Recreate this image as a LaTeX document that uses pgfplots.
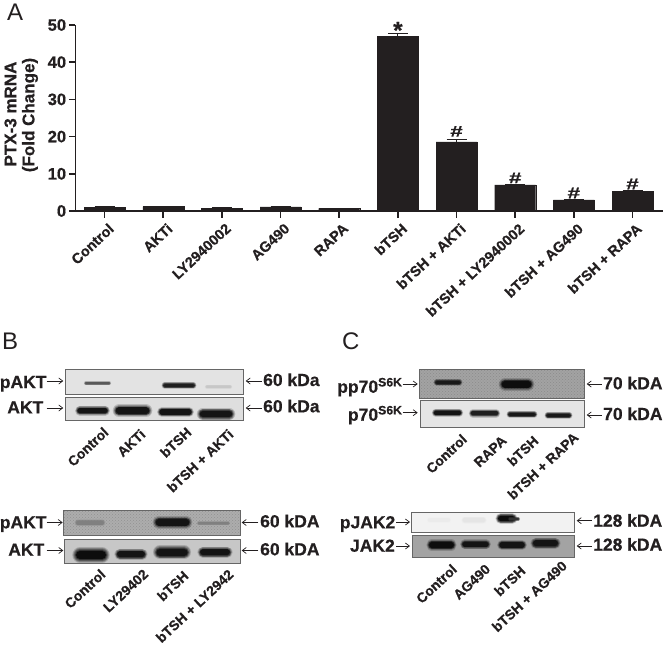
\documentclass[border=0pt]{standalone}
\usepackage{fontspec}
\setmainfont{Liberation Sans}
\usepackage{pgfplots}
\pgfplotsset{compat=1.18}
\usetikzlibrary{arrows.meta,patterns}
\definecolor{ink}{HTML}{231F20}
\newcommand\heavy{\addfontfeature{FakeBold=0.6}}
\newcommand\bx[5]{\addplot[draw=black!60,line width=.8pt,fill=#5] coordinates {(#1,#3) (#2,#3) (#2,#4) (#1,#4)} -- cycle;}
\newcommand\nz[4]{\addplot[draw=none,pattern=crosshatch dots,pattern color=black!70,opacity=.28] coordinates {(#1,#3) (#2,#3) (#2,#4) (#1,#4)} -- cycle;}
\newcommand\band[5]{%
\addplot[no marks,line cap=round,color=#5,opacity=.18,line width={#4*1.4pt}] coordinates {(#1,#3) (#2,#3)};
\addplot[no marks,line cap=round,color=#5,opacity=.25,line width={#4*1.22pt}] coordinates {(#1,#3) (#2,#3)};
\addplot[no marks,line cap=round,color=#5,opacity=.35,line width={#4*1.05pt}] coordinates {(#1,#3) (#2,#3)};
\addplot[no marks,line cap=round,color=#5,opacity=.5,line width={#4*.9pt}] coordinates {(#1,#3) (#2,#3)};
\addplot[no marks,line cap=round,color=#5,opacity=1,line width={#4*.72pt}] coordinates {(#1,#3) (#2,#3)};}
\newcommand\arR[3]{\draw[-{Straight Barb[length=4pt,width=6pt]},line width=.7pt,ink] (axis cs:#1,#3)--(axis cs:#2,#3);}
\newcommand\rl[3]{\node[rotate=43,anchor=north east,inner sep=0pt,font=\fontsize{13.9}{13.9}\selectfont\bfseries\heavy,text=ink] at (axis cs:#1-2.5,#2-2) {#3};}
\newcommand\lb[3]{\node[anchor=base east,inner sep=0pt,font=\fontsize{17.5}{17.5}\selectfont\bfseries\heavy,text=ink] at (axis cs:#1,#2) {#3};}
\newcommand\lw[3]{\node[anchor=base west,inner sep=0pt,font=\fontsize{17.5}{17.5}\selectfont\bfseries\heavy,text=ink] at (axis cs:#1,#2) {#3};}
\newcommand\pl[3]{\node[anchor=north west,inner sep=0pt,font=\fontsize{24}{24}\selectfont,text=ink] at (axis cs:#1,#2) {#3};}
\newcommand\hs[2]{\node[inner sep=0pt,text=ink,font=\fontsize{15.5}{15.5}\selectfont\bfseries\heavy] at (axis cs:#1,#2) {\scalebox{1.45}[1]{\#}};}
\begin{document}
\begin{tikzpicture}
\begin{axis}[at={(0pt,-645pt)},anchor=south west,width=664pt,height=645pt,scale only axis,
 xmin=0,xmax=664,ymin=0,ymax=645,y dir=reverse,hide axis,clip=false]
\pl{7}{4}{A}\pl{2}{333}{B}\pl{342}{333}{C}
% Panel B, upper blot
\bx{65.3}{243.7}{369.3}{394.7}{black!11}
\bx{65.3}{243.7}{397.3}{420.3}{black!13}
\band{86}{109}{383.3}{3}{black!65}
\band{165}{193}{385.3}{5}{black!88}
\band{207}{230}{386.7}{3}{black!22}
\band{80}{105}{410.7}{7}{black!92}
\band{119}{146}{410.7}{9}{black!92}
\band{162}{189}{412}{7}{black!92}
\band{203}{229}{414}{9}{black!92}
% Panel B, lower blot
\bx{63.3}{240.7}{510.7}{535.3}{black!32}
\nz{63.8}{240.2}{511.2}{534.8}
\bx{64.3}{240}{539}{563}{black!22}
\band{78}{102}{522.7}{5}{black!50}
\band{159}{186}{522.3}{9}{black!92}
\band{199}{228}{523.3}{3}{black!50}
\band{80}{102}{555}{11}{black!95}
\band{120}{142}{554.3}{8}{black!92}
\band{160}{184}{552.3}{10}{black!92}
\band{203}{227}{552.3}{8}{black!92}
% Panel C, upper blot
\bx{419.7}{584.3}{369.3}{398.3}{black!36}
\nz{420.2}{583.8}{369.8}{397.8}
\bx{420.3}{584.3}{400.7}{427.7}{black!10}
\band{437}{459}{382.3}{5}{black!90}
\band{505}{528}{384.3}{9}{black!95}
\band{436}{459}{412.7}{6}{black!92}
\band{473}{496}{413.3}{6}{black!88}
\band{510}{534}{414.3}{5}{black!90}
\band{548}{569}{415.3}{5}{black!90}
% Panel C, lower blot
\bx{411.3}{574.7}{512.3}{532}{black!5}
\bx{412.3}{574.7}{535.3}{557.7}{black!36}
\band{430}{448}{520}{4}{black!8}
\band{465}{483}{520}{5}{black!10}
\band{501}{512}{518.5}{8}{black!95}
\band{510}{518}{519}{3}{black!80}
\band{432}{451}{545}{8}{black!95}
\band{465}{486}{544.3}{7}{black!92}
\band{502}{522}{545}{7}{black!92}
\band{536}{555}{543.3}{8}{black!92}
% side labels, panel B
\lb{46.7}{388}{pAKT}\arR{46.7}{63.3}{381}
\lb{43.5}{413.3}{AKT}\arR{46.7}{63.3}{408}
\arR{261.7}{245.7}{381}\lw{263}{386}{60 kDa}
\arR{261.7}{245.7}{408}\lw{263}{412.3}{60 kDa}
\lb{46.7}{528.3}{pAKT}\arR{46.7}{62.7}{522.5}
\lb{44.5}{555.7}{AKT}\arR{46.7}{63.3}{550.5}
\arR{258.3}{241.7}{522.5}\lw{260}{527.3}{60 kDA}
\arR{258.3}{241.7}{550.5}\lw{260}{555.3}{60 kDA}
% side labels, panel C
\lb{402.7}{392.7}{pp70\textsuperscript{S6K}}\arR{402.7}{417.7}{384}
\lb{402.7}{420.7}{p70\textsuperscript{S6K}}\arR{402.7}{417.7}{412.7}
\arR{601.7}{586.7}{384}\lw{603}{389.3}{70 kDA}
\arR{601.7}{586.7}{415}\lw{603}{420}{70 kDA}
\lb{395.5}{528.3}{pJAK2}\arR{396}{410}{522}
\lb{395}{551.7}{JAK2}\arR{396}{410}{546}
\arR{591.7}{576.7}{520.7}\lw{593}{526.7}{128 kDA}
\arR{591.7}{576.7}{546}\lw{593}{550.7}{128 kDA}
% rotated lane labels
\rl{105}{428}{Control}\rl{142}{430}{AKTi}\rl{188}{428}{bTSH}\rl{230}{430}{bTSH + AKTi}
\rl{102}{570}{Control}\rl{145}{570}{LY29402}\rl{185}{571.5}{bTSH}\rl{230}{570}{bTSH + LY2942}
\rl{463.5}{435}{Control}\rl{503.5}{436.5}{RAPA}\rl{535}{436.5}{bTSH}\rl{575}{433}{bTSH + RAPA}
\rl{453.5}{565}{Control}\rl{487}{565}{AG490}\rl{522}{566.5}{bTSH}\rl{563.5}{561.5}{bTSH + AG490}
% y axis title of panel A
\node[rotate=90,inner sep=0pt,font=\fontsize{17}{17}\selectfont\bfseries\heavy,text=ink] at (axis cs:10.5,114) {PTX-3 mRNA};
\node[rotate=90,inner sep=0pt,font=\fontsize{17}{17}\selectfont\bfseries\heavy,text=ink] at (axis cs:30,115) {(Fold Change)};
\end{axis}
\begin{axis}[at={(75.3pt,-211pt)},anchor=south west,width=587.7pt,height=186pt,scale only axis,
 xmin=-0.5,xmax=9.52,ymin=0,ymax=50,
 axis x line=bottom,axis y line=left,axis line style={-,line width=1.6pt,ink},
 tick style={line width=1.6pt,ink},tick align=outside,major tick length=6.5pt,
 xtick={0,...,9},ytick={0,10,...,50},
 xticklabels={Control,AKTi,LY2940002,AG490,RAPA,bTSH,bTSH + AKTi,bTSH + LY2940002,bTSH + AG490,bTSH + RAPA},
 x tick label style={rotate=43,anchor=north east,inner sep=1pt,yshift=-4.5pt,font=\fontsize{14.5}{14.5}\selectfont\bfseries\heavy,text=ink},
 y tick label style={font=\fontsize{16.5}{16.5}\selectfont\bfseries\heavy,text=ink,inner sep=2.5pt},
 /pgf/number format/assume math mode=true,
 clip=false]
\addplot[ybar,bar width=41pt,fill=ink,draw=ink,
 error bars/.cd,y dir=plus,y explicit,error bar style={line width=1pt,ink},error mark options={rotate=90,mark size=10pt,line width=1pt,ink}]
 table[x=x,y=y,y error=e] {
x y e
0 1.0 0.1
1 1.2 0.1
2 0.8 0.1
3 1.1 0.1
4 0.7 0.1
5 47.0 0.7
6 18.6 0.7
7 7.0 0.1
8 3.0 0.2
9 5.2 0.2
};
\node[font=\fontsize{24}{24}\selectfont\bfseries\heavy,text=ink,inner sep=0pt] at (axis cs:5,48.6) {*};
\hs{6}{21.4}\hs{7}{8.9}\hs{8}{4.84}\hs{9}{7.26}
\end{axis}
\pgfresetboundingbox
\path (0pt,0pt) rectangle (664pt,-645pt);
\end{tikzpicture}
\end{document}
